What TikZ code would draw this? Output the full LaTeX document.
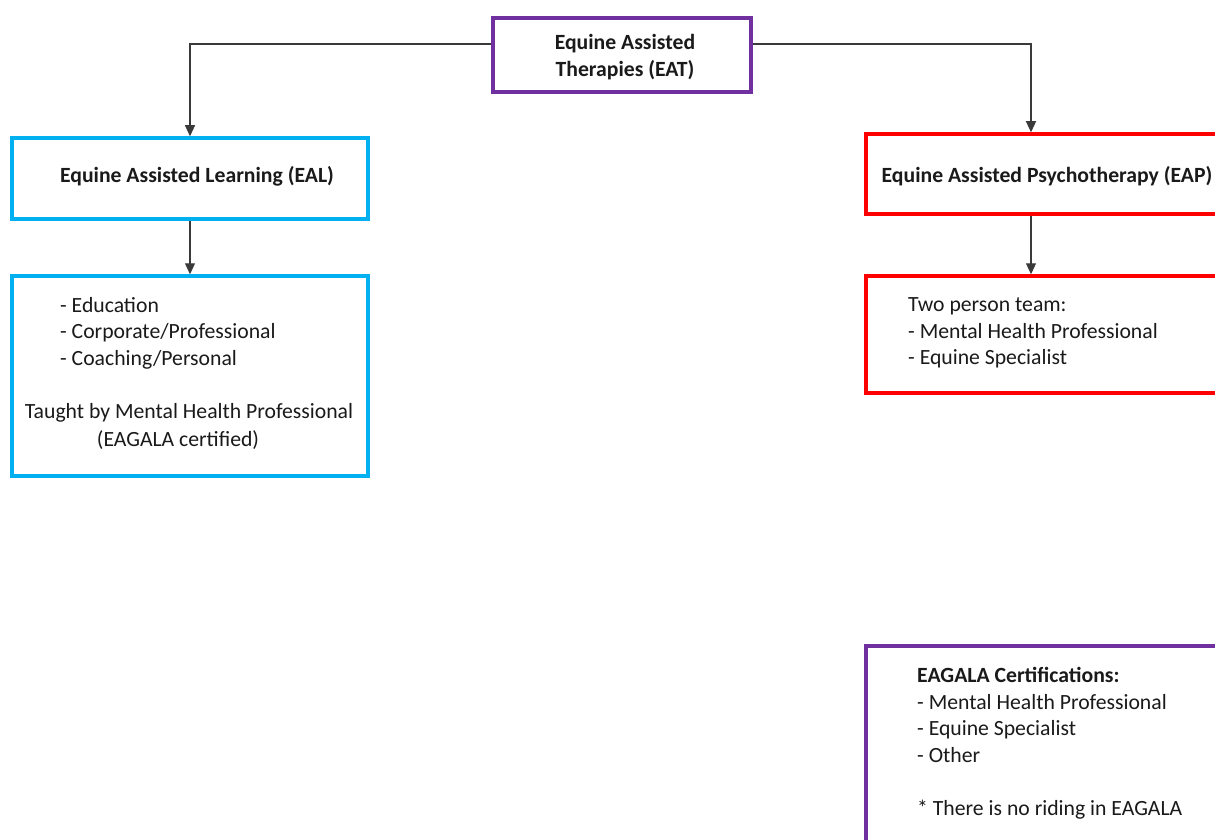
\documentclass[tikz,border=0pt]{standalone}
\usepackage{fontspec}
\setmainfont{Carlito}
\usetikzlibrary{arrows.meta}
\definecolor{purp}{HTML}{7030A0}
\definecolor{cyanb}{HTML}{00B0F0}
\definecolor{redb}{HTML}{FF0000}
\definecolor{conn}{HTML}{3A3A3A}
\definecolor{txt}{HTML}{1A1A1A}
\begin{document}
\begin{tikzpicture}[x=1pt,y=-1pt,
  box/.style={draw, line width=3.5pt, fill=white, inner sep=0pt},
  txtn/.style={text=txt, inner sep=0pt, font=\fontsize{21.7}{26.5}\selectfont},
  bold/.style={txtn, font=\fontsize{21.7}{26.5}\selectfont\bfseries},
  conn/.style={draw=conn, line width=1.1pt, -{Triangle[length=11pt,width=10pt]}}]
\useasboundingbox (0,0) rectangle (1215,840);
\clip (0,0) rectangle (1215,840);
\fill[white] (0,0) rectangle (1215,840);
% boxes
\node[box, draw=purp, line width=4pt, minimum width=258pt, minimum height=74pt] (eat) at (622,55) {};
\node[box, draw=cyanb, minimum width=356pt, minimum height=81pt] (eal) at (190,178.5) {};
\node[box, draw=cyanb, minimum width=356pt, minimum height=200pt] (eald) at (190,376) {};
\node[box, draw=redb, minimum width=364pt, minimum height=80pt] (eap) at (1048,174) {};
\node[box, draw=redb, minimum width=364pt, minimum height=117pt] (eapd) at (1048,334.5) {};
\node[box, draw=purp, minimum width=364pt, minimum height=214pt] (cert) at (1048,753) {};
% texts
\node[bold, align=center] (eatt) at (625,57) {Equine Assisted\\Therapies (EAT)};
\node[bold] (ealt) at (197,176) {Equine Assisted Learning (EAL)};
\node[bold] (eapt) at (1047,176) {Equine Assisted Psychotherapy (EAP)};
\node[txtn, align=left, anchor=west] (ealitems) at (60,333) {- Education\\- Corporate/Professional\\- Coaching/Personal};
\node[txtn] (ealtaught) at (189,413) {Taught by Mental Health Professional};
\node[txtn] (ealcert) at (178,440) {(EAGALA certified)};
\node[txtn, align=left, anchor=west] (eapitems) at (908,333) {Two person team:\\- Mental Health Professional\\- Equine Specialist};
\node[txtn, align=left, anchor=west] (certitems) at (917,743) {\textbf{EAGALA Certifications:}\\- Mental Health Professional\\- Equine Specialist\\- Other\\[26.5pt]* There is no riding in EAGALA};
% connectors
\draw[conn] ([yshift=11pt]eat.west) -| (eal.north);
\draw[conn] ([yshift=11pt]eat.east) -| ([xshift=-17pt]eap.north);
\draw[conn] (eal.south) -- (eald.north);
\draw[conn] ([xshift=-17pt]eap.south) -- ([xshift=-17pt]eapd.north);
\end{tikzpicture}
\end{document}
